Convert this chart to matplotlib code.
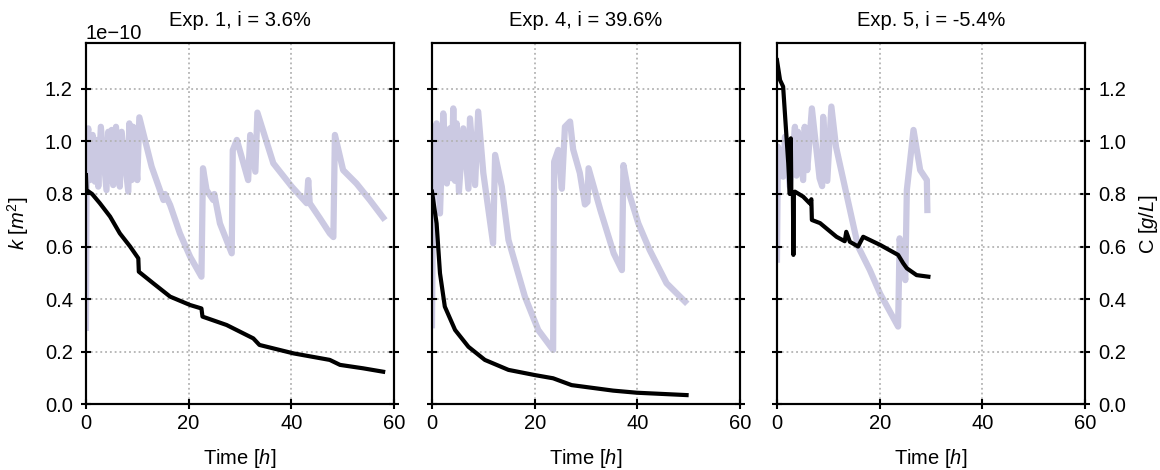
import matplotlib
matplotlib.use("Agg")
import matplotlib.pyplot as plt
import numpy as np

# fonts
plt.rcParams["font.family"] = ["Liberation Sans", "DejaVu Sans"]
plt.rcParams["mathtext.fontset"] = "custom"
plt.rcParams["mathtext.rm"] = "Liberation Sans"
plt.rcParams["mathtext.it"] = "Liberation Sans:italic"
FS = 14.5
plt.rcParams["font.size"] = FS

C_COLOR = "#cbc9e2"
K_COLOR = "black"

TITLES = ["Exp. 1, i = 3.6%", "Exp. 4, i = 39.6%", "Exp. 5, i = -5.4%"]

# Exp. 1 -- permeability k (x1e-10 m2) and concentration C (g/L) vs time (h)
t1_k = [0, 0.1, 1.2, 2.7, 4.7, 6.6, 8.6, 10.2, 10.3, 13.1, 16.4, 20.3, 22.5, 22.7,
        27.4, 32.6, 33.8, 40.4, 47.5, 49.5, 54.0, 57.9]
k1 = [0.872, 0.815, 0.80, 0.765, 0.714, 0.65, 0.60, 0.555, 0.504, 0.46, 0.409, 0.377,
      0.364, 0.333, 0.301, 0.25, 0.225, 0.193, 0.168, 0.149, 0.136, 0.123]
t1_c = [0.0, 0.15, 0.45, 0.78, 1.3, 1.75, 2.1, 2.4, 2.9, 4.0, 4.35, 4.7, 5.0, 5.3, 5.85,
        6.6, 6.95, 8.25, 8.45, 8.9, 9.2, 10.0, 10.4, 12.8, 15.1, 15.4, 16.4, 18.3, 20.3,
        22.5, 22.8, 23.5, 24.8, 25.0, 26.1, 28.4, 28.6, 29.4, 31.6, 32.0, 33.0, 33.4,
        36.5, 40.1, 43.0, 43.3, 43.6, 45.6, 47.5, 48.2, 48.5, 50.1, 52.7, 55.3, 57.9]
c1 = [0.29, 1.0, 1.05, 0.853, 1.025, 0.847, 1.006, 0.828, 1.056, 0.815, 1.037, 0.85,
      1.044, 0.834, 1.056, 0.828, 1.037, 0.809, 1.069, 0.853, 1.056, 0.853, 1.092,
      0.904, 0.777, 0.80, 0.758, 0.65, 0.561, 0.485, 0.898, 0.815, 0.777, 0.80, 0.688,
      0.574, 0.967, 1.006, 0.853, 1.025, 0.885, 1.11, 0.917, 0.828, 0.765, 0.853, 0.765,
      0.707, 0.65, 0.636, 1.025, 0.891, 0.84, 0.777, 0.71]

# Exp. 4
t4_k = [0, 0.9, 1.56, 2.5, 4.5, 7.1, 10.3, 14.9, 20.1, 23.6, 27.2, 35.3, 39.9, 49.6]
k4 = [0.809, 0.688, 0.498, 0.371, 0.282, 0.218, 0.168, 0.130, 0.110, 0.098, 0.072,
      0.051, 0.043, 0.034]
t4_c = [0, 0.2, 0.5, 0.9, 1.56, 2.2, 2.9, 3.5, 3.8, 4.15, 4.5, 4.8, 5.25, 6.1, 7.1, 7.4,
        8.4, 9.0, 10.0, 11.9, 12.3, 13.6, 14.9, 18.1, 20.7, 23.6, 23.8, 24.6, 25.3, 25.9,
        26.9, 27.5, 28.8, 29.8, 30.3, 30.5, 32.8, 35.4, 37.0, 37.3, 38.2, 40.2, 42.4,
        45.7, 49.3]
c4 = [0.30, 0.83, 1.0, 1.069, 0.726, 1.107, 0.84, 1.05, 0.86, 1.126, 0.85, 1.069, 0.809,
      1.05, 0.82, 1.088, 0.834, 1.114, 0.88, 0.612, 0.949, 0.828, 0.625, 0.409, 0.282,
      0.206, 0.923, 0.968, 0.82, 1.056, 1.076, 0.97, 0.88, 0.76, 0.77, 0.898, 0.739,
      0.574, 0.51, 0.910, 0.815, 0.688, 0.587, 0.46, 0.39]

# Exp. 5
t5_k = [0, 0.6, 1.2, 2.2, 2.5, 2.7, 2.8, 3.1, 3.2, 3.3, 3.5, 5.1, 6.4, 6.7, 6.8, 8.4,
        10.0, 11.6, 13.2, 13.5, 14.2, 15.8, 16.8, 20.1, 23.6, 24.6, 25.3, 27.2, 29.5]
k5 = [1.31, 1.234, 1.209, 0.917, 0.80, 1.012, 0.80, 0.80, 0.568, 0.80, 0.809, 0.79,
      0.764, 0.78, 0.701, 0.689, 0.663, 0.637, 0.62, 0.656, 0.618, 0.60, 0.637, 0.606,
      0.568, 0.536, 0.517, 0.491, 0.485]
t5_c = [0, 0.2, 0.6, 1.2, 1.56, 2.5, 3.5, 3.8, 4.1, 5.1, 5.4, 5.9, 6.8, 8.3, 8.8, 9.0,
        9.8, 10.6, 11.5, 13.5, 15.8, 18.1, 20.1, 23.6, 23.9, 24.4, 25.0, 25.3, 26.6,
        27.9, 29.2, 29.3]
c5 = [0.55, 0.98, 0.92, 0.866, 1.018, 0.828, 1.056, 0.87, 1.037, 0.853, 1.056, 0.891,
      1.126, 0.86, 0.83, 1.094, 0.85, 1.133, 0.98, 0.803, 0.60, 0.51, 0.42, 0.295,
      0.631, 0.55, 0.472, 0.815, 1.044, 0.891, 0.853, 0.739]

EXPERIMENTS = [
    (t1_k, k1, t1_c, c1),
    (t4_k, k4, t4_c, c4),
    (t5_k, k5, t5_c, c5),
]

# axes placement (figure fraction)
LEFTS = [0.0741, 0.3724, 0.6698]
BOTTOM, WIDTH, HEIGHT = 0.1404, 0.2655, 0.768
YMAX = 1.375


def style_axis(ax):
    ax.tick_params(direction="inout", length=7, width=1.5, labelsize=FS)
    ax.tick_params(axis="y", pad=6)
    for sp in ax.spines.values():
        sp.set_linewidth(1.5)


def main():
    fig = plt.figure(figsize=(11.6, 4.7), dpi=100)

    for i, (tk, k, tc, c) in enumerate(EXPERIMENTS):
        ax = fig.add_axes([LEFTS[i], BOTTOM, WIDTH, HEIGHT])
        ax2 = ax.twinx()
        # k on top of C
        ax.set_zorder(ax2.get_zorder() + 1)
        ax.patch.set_visible(False)

        ax2.plot(tc, c, color=C_COLOR, linewidth=4.5)
        ax.plot(tk, np.array(k) * 1e-10, color=K_COLOR, linewidth=3)

        ax.set_xlim(0, 60)
        ax.set_ylim(0, YMAX * 1e-10)
        ax2.set_ylim(0, YMAX)
        ax.set_xticks([0, 20, 40, 60])
        ax.set_yticks(np.arange(0, 1.3, 0.2) * 1e-10)
        ax2.set_yticks(np.arange(0, 1.3, 0.2))
        ax.grid(True, linestyle=":", color="0.7", linewidth=1.3)

        style_axis(ax)
        style_axis(ax2)

        ax.set_xlabel("Time [$h$]", fontsize=FS, labelpad=10)
        ax.set_title(TITLES[i], fontsize=FS, pad=12)

        if i == 0:
            ax.set_ylabel("$k$ [$m^2$]", fontsize=FS, labelpad=10)
        else:
            ax.tick_params(axis="y", labelleft=False)
            ax.yaxis.offsetText.set_visible(False)
        if i == 2:
            ax2.set_ylabel("C [$g/L$]", fontsize=FS, labelpad=8)
        else:
            ax2.tick_params(axis="y", labelright=False)

    fig.savefig("out.png", dpi=100, facecolor="white")


if __name__ == "__main__":
    main()
